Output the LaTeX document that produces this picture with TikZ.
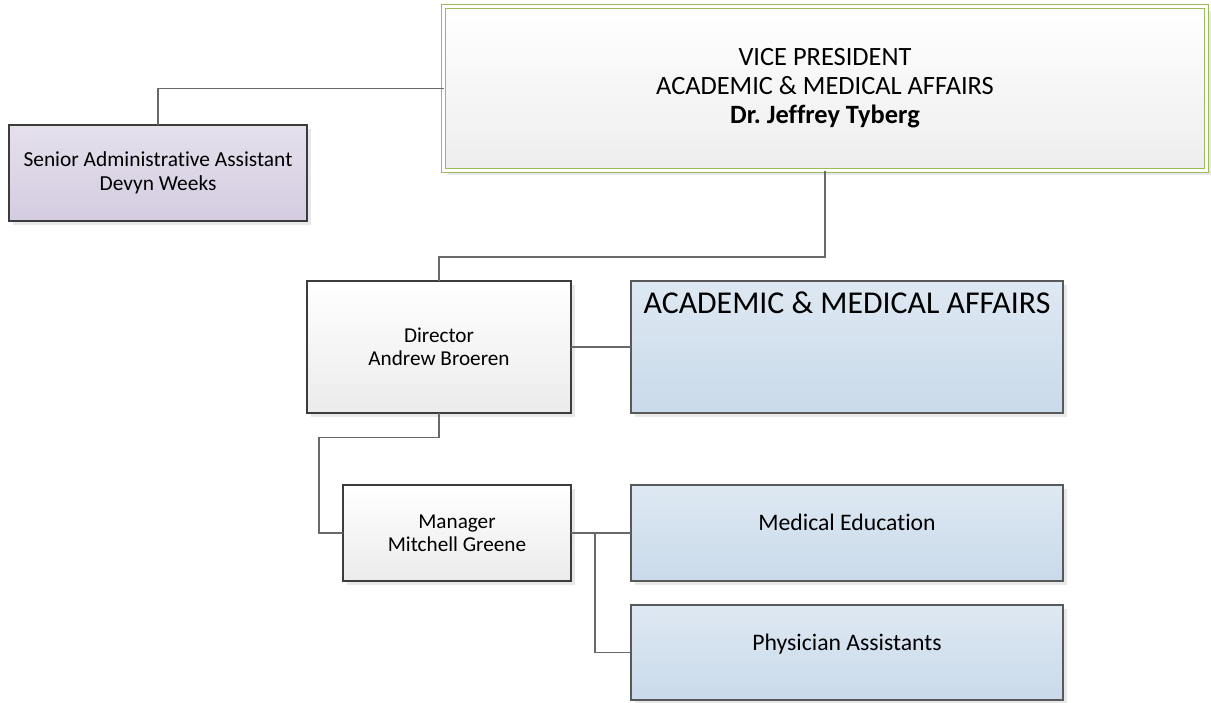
\documentclass[tikz,border=0pt]{standalone}
\usepackage{fontspec}
\setmainfont{Carlito}[Ligatures=NoCommon]
\usetikzlibrary{shadows}
\frenchspacing

\definecolor{vpgreen}{RGB}{155,187,89}
\definecolor{linegray}{RGB}{105,105,105}
\definecolor{boxborder}{RGB}{60,60,60}
\definecolor{lilactop}{RGB}{229,224,236}
\definecolor{lilacbot}{RGB}{212,204,225}
\definecolor{bluetop}{RGB}{222,232,242}
\definecolor{bluebot}{RGB}{201,218,234}
\definecolor{greybot}{RGB}{235,235,235}

\begin{document}
\begin{tikzpicture}[x=1pt,y=-1pt,
	box/.style={rectangle,draw=boxborder,line width=1.4pt,inner sep=0pt,outer sep=0pt,align=center,
		drop shadow={shadow xshift=4pt,shadow yshift=-4pt,fill=black!9,opacity=1}},
	vpbox/.style={box,draw=vpgreen,double=white,double distance=2.6pt,line width=1.2pt,
		top color=white,bottom color=black!7,font=\fontsize{26.4}{29}\selectfont},
	adminbox/.style={box,top color=lilactop,bottom color=lilacbot,font=\fontsize{21.4}{24.5}\selectfont},
	headbox/.style={box,top color=white,bottom color=greybot,font=\fontsize{21.2}{23.3}\selectfont},
	unitbox/.style={box,draw=black!65,top color=bluetop,bottom color=bluebot,font=\fontsize{23.7}{26}\selectfont},
	link/.style={draw=linegray,line width=1.4pt}]

	% Fix the size of the page
	\useasboundingbox (0,0) rectangle (1211,702);

	% Draw the vice president box (double green border)
	\node (vp) [vpbox,minimum width=763pt,minimum height=164pt] at (825,88.5)
		{VICE PRESIDENT\\ACADEMIC \& MEDICAL AFFAIRS\\\textbf{Dr. Jeffrey Tyberg}};

	% Draw the assistant box
	\node (admin) [adminbox,minimum width=298pt,minimum height=96pt] at (158,173)
		{Senior Administrative Assistant\\Devyn Weeks};

	% Draw the director and the unit he heads
	\node (dir) [headbox,minimum width=264pt,minimum height=132pt] at (439,347) {Director\\Andrew Broeren};
	\node (acad) [unitbox,minimum width=432pt,minimum height=132pt,font=\fontsize{31.8}{36}\selectfont,
		text height=23pt,text depth=91pt] at (847,347) {ACADEMIC \& MEDICAL AFFAIRS};

	% Draw the manager and his two units
	\node (mgr) [headbox,minimum width=228pt,minimum height=96pt] at (457,533) {Manager\\Mitchell Greene};
	\node (meded) [unitbox,minimum width=432pt,minimum height=96pt,text height=17pt,text depth=23pt]
		at (847,533) {Medical Education};
	\node (phys) [unitbox,minimum width=432pt,minimum height=95pt,text height=17pt,text depth=22pt]
		at (847,652.5) {Physician Assistants};

	% Bend points of the connectors
	\coordinate (vpbus) at (825,257);
	\coordinate (dirbus) at (439,437.5);
	\coordinate (mgrbus) at (319,437.5);
	\coordinate (mgrsplit) at (595,533);

	% Draw the connectors
	\draw[link] (admin.north) |- (vp.west);
	\draw[link] (vp.south) -- (vpbus) -| (dir.north);
	\draw[link] (dir.east) -- (acad.west);
	\draw[link] (dir.south) -- (dirbus) -- (mgrbus) |- (mgr.west);
	\draw[link] (mgr.east) -- (meded.west);
	\draw[link] (mgrsplit) |- (phys.west);

\end{tikzpicture}
\end{document}
